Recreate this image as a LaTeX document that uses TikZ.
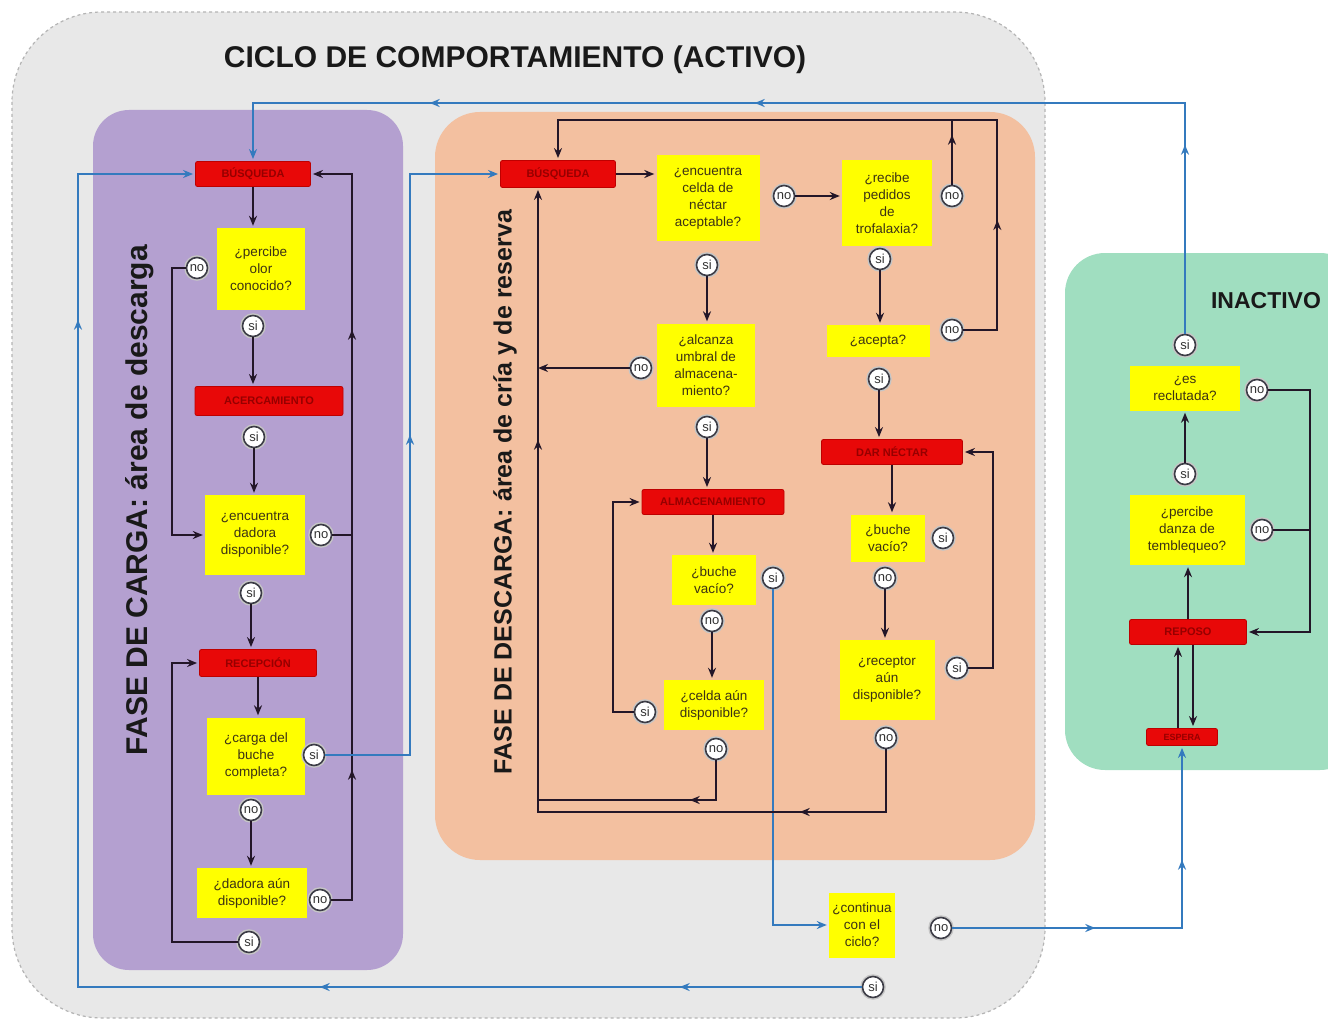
\documentclass[tikz,border=0pt]{standalone}
\usepackage{fontspec}
\setmainfont{Liberation Sans}
\usetikzlibrary{arrows.meta,decorations.markings,calc}
\definecolor{bggrey}{RGB}{232,232,232}
\definecolor{bgline}{RGB}{180,180,180}
\definecolor{purp}{RGB}{180,160,208}
\definecolor{peach}{RGB}{243,192,160}
\definecolor{mint}{RGB}{160,222,192}
\definecolor{yel}{RGB}{255,255,0}
\definecolor{redc}{RGB}{232,8,8}
\definecolor{redd}{RGB}{190,0,0}
\definecolor{redt}{RGB}{150,0,0}
\definecolor{bluec}{RGB}{52,122,190}
\definecolor{lnc}{RGB}{35,22,40}
\definecolor{txtc}{RGB}{60,50,20}
\definecolor{circc}{RGB}{60,60,70}
\tikzset{
  mytip/.tip={Stealth[length=10pt,width=8pt]},
  arr/.style={color=lnc, line width=1.7pt, -{mytip}, shorten >=2pt},
  ln/.style={color=lnc, line width=1.7pt},
  barr/.style={color=bluec, line width=1.7pt, -{mytip}, shorten >=2pt},
  bln/.style={color=bluec, line width=1.7pt},
  ybox/.style={fill=yel, align=center, font=\fontsize{13.5}{17}\selectfont, inner sep=2pt, text=txtc},
  rbox/.style={fill=redc, draw=redd, line width=0.8pt, rounded corners=2pt, font=\fontsize{11}{12}\selectfont\bfseries, text=redt, inner sep=0pt},
  cc/.style={circle, draw=circc, line width=1.6pt, fill=white, minimum size=21pt, inner sep=0pt, font=\fontsize{13}{13}\selectfont, text=black!80, preaction={draw=gray!45, line width=4.5pt}},
  dec/.style={postaction={decorate}},
  m1/.style={decoration={markings, mark=at position #1 with {\arrow{mytip}}}},
  m2/.style 2 args={decoration={markings, mark=at position #1 with {\arrow{mytip}}, mark=at position #2 with {\arrow{mytip}}}},
  m3/.style n args={3}{decoration={markings, mark=at position #1 with {\arrow{mytip}}, mark=at position #2 with {\arrow{mytip}}, mark=at position #3 with {\arrow{mytip}}}},
}
\begin{document}
\begin{tikzpicture}[x=1pt,y=-1pt]
\useasboundingbox (0,0) rectangle (1328,1022);
% backgrounds
\path[fill=bggrey, draw=bgline, dashed, line width=1.2pt, rounded corners=90pt] (12,12) rectangle (1045,1018);
\path[fill=purp, rounded corners=36pt] (93,110) rectangle (403,970);
\path[fill=peach, rounded corners=45pt] (435,112) rectangle (1035,860);
\path[fill=mint, rounded corners=40pt] (1065,253) rectangle (1360,770);
% titles
\node[font=\fontsize{30}{30}\selectfont\bfseries, text=black!90] (title) at (515,60) {CICLO DE COMPORTAMIENTO (ACTIVO)};
\node[font=\fontsize{23}{23}\selectfont\bfseries, text=black!90] (inact) at (1266,301) {INACTIVO};
\node[rotate=90, font=\fontsize{30}{30}\selectfont\bfseries, text=black!90] (lab1) at (140,500) {FASE DE CARGA: área de descarga};
\node[rotate=90, font=\fontsize{25}{25}\selectfont\bfseries, text=black!90] (lab2) at (505,492) {FASE DE DESCARGA: área de cría y de reserva};
% ---------- left column
\node[rbox, minimum width=115pt, minimum height=25pt] (R1) at (253,174) {BÚSQUEDA};
\node[ybox, minimum width=88pt, minimum height=82pt] (Y1) at (261,269) {¿percibe\\olor\\conocido?};
\node[cc] (c1no) at (197,268) {no};
\node[cc] (c1si) at (253,326) {si};
\node[rbox, minimum width=148pt, minimum height=29pt] (R2) at (269,401) {ACERCAMIENTO};
\node[cc] (c2si) at (254,437) {si};
\node[ybox, minimum width=100pt, minimum height=80pt] (Y2) at (255,535) {¿encuentra\\dadora\\disponible?};
\node[cc] (c3no) at (321,535) {no};
\node[cc] (c3si) at (251,593) {si};
\node[rbox, minimum width=117pt, minimum height=27pt] (R3) at (258,663) {RECEPCIÓN};
\node[ybox, minimum width=98pt, minimum height=77pt] (Y3) at (256,756) {¿carga del\\buche\\completa?};
\node[cc] (c4si) at (314,755) {si};
\node[cc] (c4no) at (251,810) {no};
\node[ybox, minimum width=110pt, minimum height=50pt] (Y4) at (252,893) {¿dadora aún\\disponible?};
\node[cc] (c5no) at (320,900) {no};
\node[cc] (c5si) at (249,942) {si};
% ---------- orange
\node[rbox, minimum width=115pt, minimum height=27pt] (R4) at (558,174) {BÚSQUEDA};
\node[ybox, minimum width=103pt, minimum height=85pt] (Y5) at (708,198) {¿encuentra\\celda de\\néctar\\aceptable?};
\node[cc] (c6no) at (784,196) {no};
\node[cc] (c6si) at (707,265) {si};
\node[ybox, minimum width=90pt, minimum height=85pt] (Y6) at (887,203) {¿recibe\\pedidos\\de\\trofalaxia?};
\node[cc] (c7no) at (952,196) {no};
\node[cc] (c7si) at (880,259) {si};
\node[ybox, minimum width=103pt, minimum height=32pt] (Y7) at (878,341) {¿acepta?};
\node[cc] (c8no) at (952,330) {no};
\node[cc] (c8si) at (879,379) {si};
\node[rbox, minimum width=141pt, minimum height=25pt] (R6) at (892,452) {DAR NÉCTAR};
\node[ybox, minimum width=74pt, minimum height=47pt] (Y8) at (888,538) {¿buche\\vacío?};
\node[cc] (c9si) at (943,538) {si};
\node[cc] (c9no) at (885,578) {no};
\node[ybox, minimum width=95pt, minimum height=80pt] (Y9) at (887,680) {¿receptor\\aún\\disponible?};
\node[cc] (c10si) at (957,668) {si};
\node[cc] (c10no) at (886,738) {no};
\node[ybox, minimum width=98pt, minimum height=83pt] (Y10) at (706,365) {¿alcanza\\umbral de\\almacena-\\miento?};
\node[cc] (c11no) at (641,368) {no};
\node[cc] (c11si) at (707,427) {si};
\node[rbox, minimum width=142pt, minimum height=25pt] (R5) at (713,502) {ALMACENAMIENTO};
\node[ybox, minimum width=84pt, minimum height=50pt] (Y11) at (714,580) {¿buche\\vacío?};
\node[cc] (c12si) at (773,578) {si};
\node[cc] (c12no) at (712,621) {no};
\node[ybox, minimum width=100pt, minimum height=50pt] (Y13) at (714,705) {¿celda aún\\disponible?};
\node[cc] (c13si) at (645,712) {si};
\node[cc] (c13no) at (716,749) {no};
\node[ybox, minimum width=66pt, minimum height=65pt] (Y12) at (862,925) {¿continua\\con el\\ciclo?};
\node[cc] (c14no) at (941,928) {no};
\node[cc] (c14si) at (873,987) {si};
% ---------- green
\node[rbox, minimum width=117pt, minimum height=25pt] (R7) at (1188,632) {REPOSO};
\node[rbox, minimum width=71pt, minimum height=17pt, font=\fontsize{9}{9}\selectfont\bfseries] (R8) at (1182,737) {ESPERA};
\node[ybox, minimum width=115pt, minimum height=70pt] (Y14) at (1187,530) {¿percibe\\danza de\\temblequeo?};
\node[cc] (c15no) at (1262,530) {no};
\node[cc] (c15si) at (1185,474) {si};
\node[ybox, minimum width=110pt, minimum height=45pt] (Y15) at (1185,388) {¿es\\reclutada?};
\node[cc] (c16no) at (1257,390) {no};
\node[cc] (c16si) at (1185,345) {si};
% coordinates
\coordinate (rl) at (352,174);
\coordinate (b1) at (410,174);
\coordinate (ob) at (78,987);
\coordinate (tp) at (0,103);
\coordinate (ot) at (0,120);
\coordinate (lb) at (538,812);
\coordinate (lb2) at (538,800);
\coordinate (gr) at (1310,0);
% ---------- left connectors
\draw[arr] (R1.south) -- (R1.south |- Y1.north);
\draw[arr] (c1no.west) -- ++(-14,0) |- (Y2.west);
\draw[arr] (c1si.south) -- (c1si.south |- R2.north);
\draw[arr] (c2si.south) -- (c2si.south |- Y2.north);
\draw[ln] (c3no.east) -- (c3no.east -| rl);
\draw[arr, dec, m2={151pt}{591pt}] (c5no.east) -| (rl) -- (R1.east);
\draw[arr] (c3si.south) -- (c3si.south |- R3.north);
\draw[arr] (R3.south) -- (R3.south |- Y3.north);
\draw[arr] (c4no.south) -- (c4no.south |- Y4.north);
\draw[arr] (c5si.west) -- ++(-66,0) |- (R3.west);
\draw[barr, dec, m1={405pt}] (c4si.east) -| (b1) -- (R4.west);
% ---------- outer blue
\draw[barr, dec, m3={182pt}{542pt}{1451pt}] (c14si.west) -- (ob) |- (R1.west);
\draw[barr, dec, m3={189pt}{661pt}{986pt}] (c16si.north) |- (R1.north |- tp) -- (R1.north);
\draw[barr, dec, m2={143pt}{298pt}] (c14no.east) -| (R8.south);
\draw[barr] (c12si.south) |- (Y12.west);
% ---------- orange connectors
\draw[arr] (R4.east) -- (R4.east -| Y5.west);
\draw[arr] (c6no.east) -- (c6no.east -| Y6.west);
\draw[arr, dec, m1={144pt}] (c8no.east) -- ++(34,0) |- (R4.north |- ot) -- (R4.north);
\draw[ln, dec, m1={50pt}] (c7no.north) -- (c7no.north |- ot);
\draw[arr] (c7si.south) -- (c7si.south |- Y7.north);
\draw[arr] (c8si.south) -- (c8si.south |- R6.north);
\draw[arr] (R6.south) -- (R6.south |- Y8.north);
\draw[arr] (c9no.south) -- (c9no.south |- Y9.north);
\draw[arr] (c10si.east) -- ++(25,0) |- (R6.east);
\draw[arr, dec, m2={149pt}{783pt}] (c10no.south) |- (lb) -- (lb |- R4.south);
\draw[ln, dec, m1={66pt}] (c13no.south) |- (lb2);
\draw[ln, -{mytip}] (c11no.west) -- (c11no.west -| lb);
\draw[arr] (c6si.south) -- (c6si.south |- Y10.north);
\draw[arr] (c11si.south) -- (c11si.south |- R5.north);
\draw[arr] (R5.south) -- (R5.south |- Y11.north);
\draw[arr] (c12no.south) -- (c12no.south |- Y13.north);
\draw[arr] (c13si.west) -- ++(-21,0) |- (R5.west);
% ---------- green connectors
\draw[arr] (R7.north) -- (R7.north |- Y14.south);
\draw[arr] (c15si.north) -- (c15si.north |- Y15.south);
\draw[arr] ([xshift=-4pt]R8.north) -- ([xshift=-4pt]R8.north |- R7.south);
\draw[arr] ([xshift=5pt]R7.south) -- ([xshift=5pt]R7.south |- R8.north);
\draw[arr] (c16no.east) -| (gr |- R7.east) -- (R7.east);
\draw[ln] (c15no.east) -- (c15no.east -| gr);
\end{tikzpicture}
\end{document}
